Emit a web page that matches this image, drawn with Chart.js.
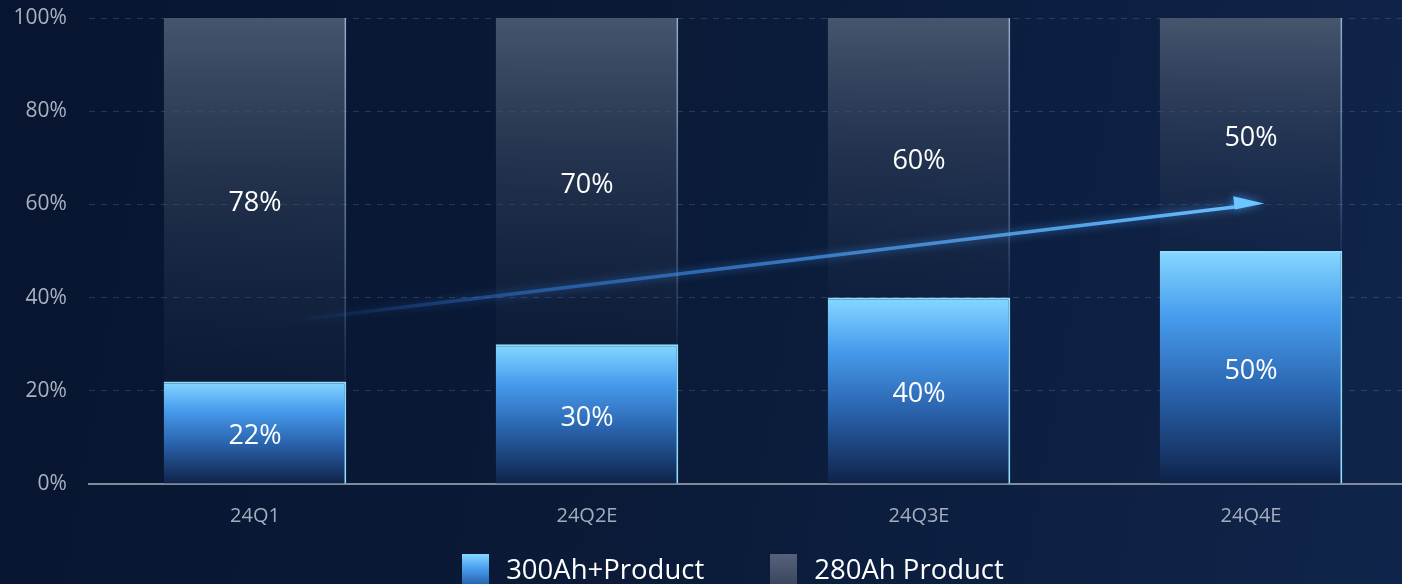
<!DOCTYPE html>
<html>
<head>
<meta charset="utf-8">
<script src="https://cdn.jsdelivr.net/npm/chart.js@4"></script>
<style>
	html, body { margin: 0; width: 1402px; height: 584px; overflow: hidden; }
	body { background: linear-gradient(100deg, #071530 0%, #0a1a37 45%, #10254b 100%); font-family: "Open Sans", "Noto Sans", sans-serif; }
	#wrap { position: absolute; left: 0; top: 0; width: 1417px; height: 584px; }
	#legend { position: absolute; left: 0; top: 554px; width: 1466px; display: flex; justify-content: center; align-items: center; }
	#legend .item { display: flex; align-items: center; margin: 0 33px; }
	#legend .box { width: 27px; height: 30px; margin-right: 17px; }
	#legend .text { color: #ffffff; font-size: 27.5px; line-height: 30px; white-space: nowrap; }
</style>
</head>
<body>
<div id="wrap"><canvas id="chart" width="1417" height="584"></canvas></div>
<div id="legend"></div>
<script>
(() => {
	'use strict'

	// Data
	const categories = ['24Q1', '24Q2E', '24Q3E', '24Q4E'];
	const seriesNames = ['300Ah+Product', '280Ah Product'];
	const share300 = [22, 30, 40, 50];
	const share280 = [78, 70, 60, 50];
	const yTicks = [0, 20, 40, 60, 80, 100];
	// trend arrow: [category index, percent]
	const trendFrom = [0.1, 35];
	const trendTo = [3.04, 60.2];

	const fontFamily = '"Open Sans", "Noto Sans", sans-serif';
	const legendSwatches = [
		'linear-gradient(#86d8ff, #479cee 50%, #2a64ae)',
		'linear-gradient(#55627a, #3b475d)'
	];

	// Vertical gradient for the blue bars, one per bar
	function blueFill(c) {
		const chart = c.chart;
		if (!chart.chartArea || c.type !== 'data') return '#3f8fe3';
		const y = chart.scales.y;
		const top = y.getPixelForValue(share300[c.dataIndex]);
		const bottom = y.getPixelForValue(0);
		const g = chart.ctx.createLinearGradient(0, top, 0, bottom);
		g.addColorStop(0, '#86d8ff');
		g.addColorStop(0.28, '#479cee');
		g.addColorStop(0.6, '#2a64ae');
		g.addColorStop(1, '#0e2248');
		return g;
	}

	// Grey bars fade out toward the blue bar below
	function greyFill(c) {
		const chart = c.chart;
		if (!chart.chartArea || c.type !== 'data') return 'rgba(70,84,106,0.6)';
		const y = chart.scales.y;
		const top = y.getPixelForValue(100);
		const bottom = y.getPixelForValue(share300[c.dataIndex]);
		const g = chart.ctx.createLinearGradient(0, top, 0, bottom);
		g.addColorStop(0, 'rgba(74,88,112,0.95)');
		g.addColorStop(0.45, 'rgba(62,76,100,0.5)');
		g.addColorStop(1, 'rgba(40,54,80,0.12)');
		return g;
	}

	function greyEdge(c) {
		const chart = c.chart;
		if (!chart.chartArea || c.type !== 'data') return 'rgba(160,185,215,0.6)';
		const y = chart.scales.y;
		const top = y.getPixelForValue(100);
		const bottom = y.getPixelForValue(share300[c.dataIndex]);
		const g = chart.ctx.createLinearGradient(0, top, 0, bottom);
		g.addColorStop(0, 'rgba(170,200,230,0.85)');
		g.addColorStop(0.7, 'rgba(140,170,210,0.45)');
		g.addColorStop(1, 'rgba(120,150,200,0.1)');
		return g;
	}

	/******************** Plugins Start ********************/
	const trendArrow = {
		id: 'trendArrow',
		afterDatasetsDraw(chart) {
			const {ctx, scales: {x, y}} = chart;
			const x0 = x.getPixelForValue(trendFrom[0]);
			const y0 = y.getPixelForValue(trendFrom[1]);
			const x1 = x.getPixelForValue(trendTo[0]);
			const y1 = y.getPixelForValue(trendTo[1]);
			const ang = Math.atan2(y1 - y0, x1 - x0);
			const headLen = 30;
			const bx = x1 - Math.cos(ang) * headLen;
			const by = y1 - Math.sin(ang) * headLen;
			const nx = Math.sin(ang), ny = -Math.cos(ang);

			ctx.save();
			const g = ctx.createLinearGradient(x0, y0, x1, y1);
			g.addColorStop(0, 'rgba(40,100,200,0)');
			g.addColorStop(0.25, 'rgba(50,120,220,0.55)');
			g.addColorStop(1, 'rgba(110,195,255,1)');
			ctx.strokeStyle = g;
			ctx.lineWidth = 3.5;
			ctx.lineCap = 'round';
			ctx.shadowColor = 'rgba(70,160,255,0.7)';
			ctx.shadowBlur = 8;
			ctx.beginPath();
			ctx.moveTo(x0, y0);
			ctx.lineTo(bx + Math.cos(ang) * 4, by + Math.sin(ang) * 4);
			ctx.stroke();

			ctx.fillStyle = '#6cc6ff';
			ctx.beginPath();
			ctx.moveTo(x1, y1);
			ctx.lineTo(bx + nx * 11, by + ny * 11);
			ctx.lineTo(bx - nx * 2.5, by - ny * 2.5);
			ctx.closePath();
			ctx.fill();
			ctx.restore();
		}
	};

	const barLabels = {
		id: 'barLabels',
		afterDatasetsDraw(chart) {
			const ctx = chart.ctx;
			ctx.save();
			ctx.font = '27px ' + fontFamily;
			ctx.fillStyle = '#ffffff';
			ctx.textAlign = 'center';
			ctx.textBaseline = 'middle';
			chart.data.datasets.forEach((ds, i) => {
				chart.getDatasetMeta(i).data.forEach((bar, j) => {
					// small nudge down so the glyphs sit visually centred
					ctx.fillText(ds.data[j] + '%', bar.x, (bar.y + bar.base) / 2 + 4);
				});
			});
			ctx.restore();
		}
	};
	/******************** Plugins End ********************/

	const data = {
		labels: categories,
		datasets: [{
			label: seriesNames[0],
			data: share300,
			backgroundColor: blueFill,
			borderColor: '#8fdcff',
			borderWidth: {top: 2, right: 2, left: 0, bottom: 0},
			borderSkipped: false,
		}, {
			label: seriesNames[1],
			data: share280,
			backgroundColor: greyFill,
			borderColor: greyEdge,
			borderWidth: {top: 0, right: 2, left: 0, bottom: 0},
			borderSkipped: false,
		}]
	};

	const config = {
		type: 'bar',
		data: data,
		plugins: [trendArrow, barLabels],
		options: {
			responsive: false,
			animation: false,
			categoryPercentage: 1,
			barPercentage: 0.55,
			layout: {padding: {left: 13.6, top: 18, right: 0, bottom: 56}},
			scales: {
				x: {
					stacked: true,
					// tick length used as the gap under the axis line
					grid: {display: false, drawTicks: true, tickLength: 20},
					border: {display: true, color: '#7f8a9b', width: 2},
					ticks: {color: '#a3adbc', font: {size: 20, family: fontFamily}, padding: 0}
				},
				y: {
					stacked: true,
					min: 0,
					max: 100,
					afterBuildTicks(scale) { scale.ticks = yTicks.map(v => ({value: v})); },
					grid: {
						drawTicks: true,
						tickLength: 22,
						tickColor: 'rgba(0,0,0,0)',
						color: (c) => c.tick && c.tick.value === 0 ? 'rgba(0,0,0,0)' : 'rgba(120,140,175,0.28)',
						lineWidth: 1
					},
					border: {display: false, dash: [6, 6]},
					ticks: {
						color: '#a9b2c1',
						font: {size: 21, family: fontFamily},
						padding: 0,
						callback: (v) => v + '%'
					}
				}
			},
			plugins: {
				tooltip: {enabled: false},
				title: {display: false},
				legend: {display: false}
			}
		}
	};

	const myChart = new Chart(document.getElementById('chart'), config);

	// HTML legend
	const legend = document.getElementById('legend');
	seriesNames.forEach((name, i) => {
		const item = document.createElement('div');
		item.className = 'item';
		item.innerHTML = '<div class="box" style="background:' + legendSwatches[i] + '"></div><div class="text">' + name + '</div>';
		legend.appendChild(item);
	});
})()
</script>
</body>
</html>
